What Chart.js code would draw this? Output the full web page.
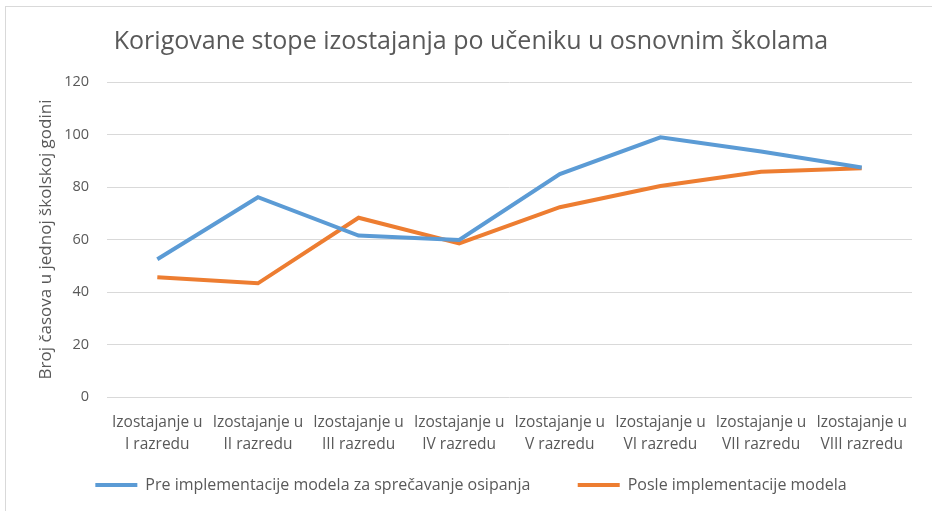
<!DOCTYPE html>
<html lang="sr">
<head>
    <meta charset="UTF-8">
    <title>Korigovane stope izostajanja</title>
    <script src="https://cdn.jsdelivr.net/npm/chart.js"></script>
    <style>
        body {
            margin: 0;
            background-color: white;
            overflow: hidden;
        }
        .frame {
            position: absolute;
            left: 5px;
            top: 6px;
            width: 960px;
            height: 540px;
            border: 1px solid #d9d9d9;
        }
        #chart {
            position: absolute;
            left: 0;
            top: 0;
        }
    </style>
</head>
<body>
    <div class="frame"></div>
    <canvas id="chart" width="932" height="511"></canvas>
    <script>
        const razredi = [
            ["Izostajanje u", "I razredu"],
            ["Izostajanje u", "II razredu"],
            ["Izostajanje u", "III razredu"],
            ["Izostajanje u", "IV razredu"],
            ["Izostajanje u", "V razredu"],
            ["Izostajanje u", "VI razredu"],
            ["Izostajanje u", "VII razredu"],
            ["Izostajanje u", "VIII razredu"]
        ];
        const preImplementacije = [52.5, 76.1, 61.5, 59.8, 84.9, 98.9, 93.5, 87.4];
        const posleImplementacije = [45.6, 43.3, 68.3, 58.5, 72.3, 80.4, 85.8, 87.1];
        const yTicks = [0, 20, 40, 60, 80, 100, 120];

        const siva = '#595959';
        const font = 'Open Sans';

        const ctx = document.getElementById('chart').getContext('2d');
        new Chart(ctx, {
            type: 'line',
            data: {
                labels: razredi,
                datasets: [{
                    label: 'Pre implementacije modela za sprečavanje osipanja',
                    data: preImplementacije,
                    borderColor: '#5B9BD5',
                    backgroundColor: '#5B9BD5',
                    borderWidth: 4,
                    pointRadius: 0,
                    tension: 0
                }, {
                    label: 'Posle implementacije modela',
                    data: posleImplementacije,
                    borderColor: '#ED7D31',
                    backgroundColor: '#ED7D31',
                    borderWidth: 4,
                    pointRadius: 0,
                    tension: 0
                }]
            },
            options: {
                responsive: false,
                animation: false,
                layout: { padding: { left: 30, right: 20, top: 0, bottom: 8 } },
                plugins: {
                    title: {
                        display: true,
                        text: 'Korigovane stope izostajanja po učeniku u osnovnim školama',
                        color: siva,
                        font: { family: font, size: 25, weight: 'normal' },
                        padding: { top: 27, bottom: 25 }
                    },
                    legend: {
                        position: 'bottom',
                        labels: {
                            color: siva,
                            font: { family: font, size: 16 },
                            usePointStyle: true,
                            pointStyle: 'line',
                            pointStyleWidth: 42,
                            padding: 10,
                            // razmak izmedju stavki legende kao u Excelu
                            generateLabels: chart => {
                                const items = Chart.defaults.plugins.legend.labels.generateLabels(chart);
                                items[0].text = items[0].text + ' '.repeat(9);
                                return items;
                            }
                        }
                    },
                    tooltip: { enabled: false }
                },
                scales: {
                    x: {
                        offset: true,
                        grid: { display: false },
                        border: { display: false },
                        ticks: {
                            color: siva,
                            font: { family: font, size: 15.5, lineHeight: 1.4 },
                            maxRotation: 0,
                            autoSkip: false,
                            padding: 7
                        },
                        afterFit: s => { s.height = 70; }
                    },
                    y: {
                        min: 0,
                        max: 120,
                        afterBuildTicks: s => { s.ticks = yTicks.map(v => ({ value: v })); },
                        grid: { color: '#d9d9d9', lineWidth: 1, drawTicks: false },
                        border: { display: false },
                        ticks: {
                            color: siva,
                            font: { family: font, size: 14.5 },
                            padding: 18
                        },
                        title: {
                            display: true,
                            text: 'Broj časova u jednoj školskoj godini',
                            color: siva,
                            font: { family: font, size: 17 },
                            padding: { top: 6, bottom: 4 }
                        },
                        afterFit: s => { s.width = 77; }
                    }
                }
            }
        });
    </script>
</body>
</html>
